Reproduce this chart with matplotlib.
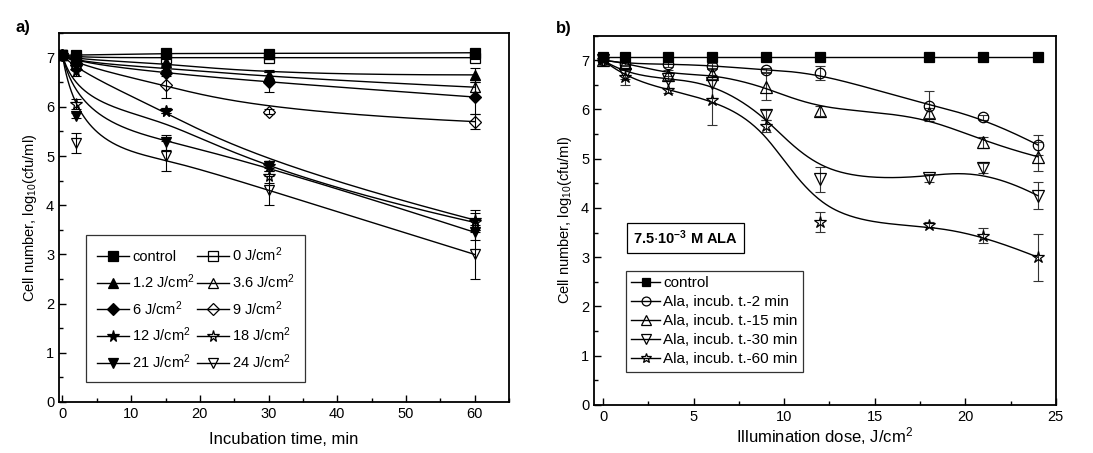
import numpy as np
import matplotlib
matplotlib.use('Agg')
import matplotlib.pyplot as plt
from matplotlib.lines import Line2D
from matplotlib.ticker import MultipleLocator

plt.rcParams['font.family'] = ['Liberation Sans', 'DejaVu Sans']
plt.rcParams['mathtext.fontset'] = 'custom'
plt.rcParams['mathtext.rm'] = 'Liberation Sans'
plt.rcParams['mathtext.it'] = 'Liberation Sans:italic'
plt.rcParams['mathtext.bf'] = 'Liberation Sans:bold'
plt.rcParams['mathtext.default'] = 'regular'

# ---- a) survival vs incubation time, one curve per light dose ----
t_inc = [0, 2, 15, 30, 60]
dose_labels = ['control', '0 J/cm$^2$', '1.2 J/cm$^2$', '3.6 J/cm$^2$', '6 J/cm$^2$',
               '9 J/cm$^2$', '12 J/cm$^2$', '18 J/cm$^2$', '21 J/cm$^2$', '24 J/cm$^2$']
a_control = [7.05, 7.05, 7.10, 7.08, 7.10]
a_0 = [7.05, 7.00, 7.00, 7.00, 7.00]
a_1_2 = [7.05, 6.95, 6.92, 6.65, 6.65]
a_3_6 = [7.05, 6.90, 6.80, 6.60, 6.40]
a_6 = [7.05, 6.90, 6.68, 6.50, 6.20]
a_9 = [7.05, 6.85, 6.44, 5.90, 5.70]
a_12 = [7.05, 6.73, 5.92, 4.80, 3.70]
a_18 = [7.05, 6.05, 5.92, 4.60, 3.65]
a_21 = [7.05, 5.82, 5.28, 4.80, 3.45]
a_24 = [7.05, 5.27, 5.00, 4.30, 3.00]
a_err = [[0, 0.02, 0.02, 0.02, 0.02],
         [0, 0.02, 0.02, 0.02, 0.02],
         [0, 0.05, 0.05, 0.10, 0.15],
         [0, 0.05, 0.05, 0.10, 0.10],
         [0, 0.05, 0.05, 0.20, 0.35],
         [0, 0.05, 0.25, 0.05, 0.15],
         [0, 0.10, 0.05, 0.10, 0.20],
         [0, 0.10, 0.05, 0.15, 0.20],
         [0, 0.05, 0.15, 0.10, 0.15],
         [0, 0.20, 0.30, 0.30, 0.50]]

# ---- b) survival vs illumination dose, 7.5e-3 M ALA ----
dose = [0, 1.2, 3.6, 6, 9, 12, 18, 21, 24]
ala_labels = ['control', 'Ala, incub. t.-2 min', 'Ala, incub. t.-15 min',
              'Ala, incub. t.-30 min', 'Ala, incub. t.-60 min']
b_control = [7.07, 7.07, 7.07, 7.07, 7.07, 7.07, 7.07, 7.07, 7.07]
b_2 = [7.00, 6.93, 6.92, 6.89, 6.80, 6.74, 6.07, 5.84, 5.28]
b_15 = [7.00, 6.95, 6.70, 6.72, 6.46, 5.97, 5.92, 5.33, 5.04]
b_30 = [7.00, 6.72, 6.62, 6.53, 5.89, 4.58, 4.60, 4.81, 4.25]
b_60 = [7.00, 6.65, 6.39, 6.19, 5.66, 3.71, 3.66, 3.44, 3.00]
b_err = [[0, 0, 0, 0, 0, 0, 0, 0, 0],
         [0, 0.05, 0.05, 0.05, 0.05, 0.15, 0.30, 0.05, 0.20],
         [0, 0.05, 0.10, 0.10, 0.27, 0.10, 0.10, 0.12, 0.30],
         [0, 0.10, 0.05, 0.30, 0.10, 0.25, 0.08, 0.10, 0.28],
         [0, 0.15, 0.05, 0.50, 0.12, 0.20, 0.05, 0.15, 0.48]]


def bspline(xs, ys, k=3, n=300):
    # clamped uniform B-spline, data points used as control points
    P = np.column_stack([xs, ys]).astype(float)
    m = len(P)
    k = min(k, m - 1)
    t = np.concatenate([np.zeros(k), np.linspace(0, 1, m - k + 1), np.ones(k)])
    u = np.linspace(0, 1, n)
    N = np.zeros((n, len(t) - 1))
    for i in range(len(t) - 1):
        N[:, i] = (u >= t[i]) & (u < t[i + 1])
    N[-1, m - 1] = 1.0
    for d in range(1, k + 1):
        Nn = np.zeros((n, len(t) - 1 - d))
        for i in range(len(t) - 1 - d):
            a = t[i + d] - t[i]
            b = t[i + d + 1] - t[i + 1]
            if a > 0:
                Nn[:, i] += (u - t[i]) / a * N[:, i]
            if b > 0:
                Nn[:, i] += (t[i + d + 1] - u) / b * N[:, i + 1]
        N = Nn
    C = N[:, :m] @ P
    return C[:, 0], C[:, 1]


def draw_series(ax, x, y, err, marker, filled, ms, ecol):
    ax.errorbar(x, y, yerr=err, fmt='none', ecolor=ecol, elinewidth=0.8,
                capsize=3.5, capthick=0.8, zorder=2)
    bx, by = bspline(x, y)
    ax.plot(bx, by, color='k', lw=1.0, zorder=3)
    ax.plot(x, y, ls='none', marker=marker, ms=ms, mec='k', mew=0.9,
            mfc='k' if filled else 'none', zorder=4)


def style_axes(ax):
    ax.set_ylim(0, 7.5)
    ax.yaxis.set_major_locator(MultipleLocator(1))
    ax.yaxis.set_minor_locator(MultipleLocator(0.5))
    ax.tick_params(which='both', direction='in', top=False, right=False, labelsize=10.5)
    ax.tick_params(which='major', length=5, width=1)
    ax.tick_params(which='minor', length=3, width=1)
    for s in ax.spines.values():
        s.set_linewidth(1.3)
    ax.set_ylabel('Cell number, log$_{10}$(cfu/ml)', fontsize=10.5, labelpad=5)


fig = plt.figure(figsize=(10.93, 4.53), dpi=100)
ax1 = fig.add_axes([0.054, 0.1126, 0.4117, 0.8144])
ax2 = fig.add_axes([0.5435, 0.106, 0.4225, 0.8156])

# panel a
a_series = [a_control, a_0, a_1_2, a_3_6, a_6, a_9, a_12, a_18, a_21, a_24]
a_marks = [('s', True, 6.5), ('s', False, 6.5), ('^', True, 7.5), ('^', False, 7.5),
           ('D', True, 6.0), ('D', False, 6.0), ('*', True, 8.5), ('*', False, 8.5),
           ('v', True, 7.5), ('v', False, 7.5)]
for y, err, (m, f, ms) in zip(a_series, a_err, a_marks):
    draw_series(ax1, t_inc, y, err, m, f, ms, 'k')

ax1.set_xlim(-0.5, 65)
ax1.xaxis.set_major_locator(MultipleLocator(10))
ax1.xaxis.set_minor_locator(MultipleLocator(5))
style_axes(ax1)
ax1.set_xlabel('Incubation time, min', fontsize=12, labelpad=8)

h1 = [Line2D([], [], color='k', lw=1.0, marker=m, ms=ms, mec='k', mew=0.9,
             mfc='k' if f else 'none') for (m, f, ms) in a_marks]
# column-wise order so filled markers stay in the left column
order = [0, 2, 4, 6, 8, 1, 3, 5, 7, 9]
leg1 = ax1.legend([h1[i] for i in order], [dose_labels[i] for i in order],
                  ncol=2, loc='lower left', bbox_to_anchor=(0.06, 0.055),
                  fontsize=10.5, frameon=True, fancybox=False, edgecolor='k',
                  handlelength=2.2, handletextpad=0.2, columnspacing=0.15,
                  labelspacing=0.55, borderpad=0.75, borderaxespad=0)
leg1.get_frame().set_linewidth(0.9)

# panel b
b_series = [b_control, b_2, b_15, b_30, b_60]
b_marks = [('s', True, 6.5), ('o', False, 7.5), ('^', False, 8), ('v', False, 8), ('*', False, 9)]
for y, err, (m, f, ms) in zip(b_series, b_err, b_marks):
    draw_series(ax2, dose, y, err, m, f, ms, '#333333')

ax2.set_xlim(-0.5, 25)
ax2.xaxis.set_major_locator(MultipleLocator(5))
ax2.xaxis.set_minor_locator(MultipleLocator(2.5))
style_axes(ax2)
ax2.set_xlabel('Illumination dose, J/cm$^2$', fontsize=12, labelpad=1)

h2 = [Line2D([], [], color='k', lw=1.0, marker=m, ms=ms * 0.85, mec='k', mew=0.9,
             mfc='k' if f else 'none') for (m, f, ms) in b_marks]
leg2 = ax2.legend(h2, ala_labels, loc='lower left', bbox_to_anchor=(0.069, 0.09),
                  fontsize=11, frameon=True, fancybox=False, edgecolor='k',
                  handlelength=1.9, handletextpad=0.2, labelspacing=0.33,
                  borderpad=0.35, borderaxespad=0)
leg2.get_frame().set_linewidth(0.9)

ax2.text(0.198, 0.452, '7.5$\\cdot$10$^{-3}$ M ALA', transform=ax2.transAxes,
         ha='center', va='center', fontsize=10.5, fontweight='bold',
         bbox=dict(boxstyle='square,pad=0.42', fc='white', ec='k', lw=0.9))

fig.text(0.014, 0.94, 'a)', fontsize=12, fontweight='bold', va='center')
fig.text(0.509, 0.938, 'b)', fontsize=12, fontweight='bold', va='center')

fig.savefig('out.png', dpi=100)
